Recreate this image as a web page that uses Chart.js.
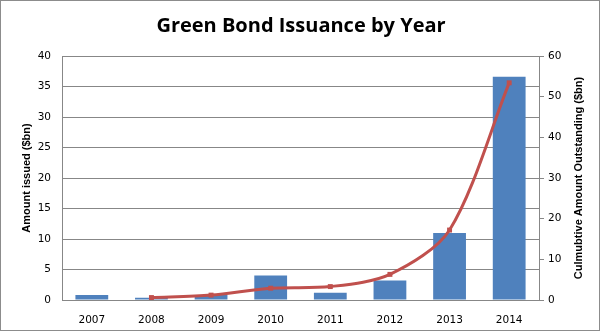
<!DOCTYPE html>
<html>
<head>
<meta charset="utf-8">
<script src="https://cdn.jsdelivr.net/npm/chart.js@4"></script>
<style>
    html, body { margin: 0; padding: 0; background: #fff; }
    #wrap { width: 602px; height: 334px; }
</style>
</head>
<body>
<div id="wrap"><canvas id="myChart" width="602" height="334"></canvas></div>
<script>
// Data
const years = ['2007', '2008', '2009', '2010', '2011', '2012', '2013', '2014'];
const issued = [0.82, 0.38, 0.8, 4.0, 1.2, 3.2, 11.0, 36.6];
const outstanding = [null, 0.6, 1.2, 2.9, 3.3, 6.3, 17.2, 53.4];
const leftTicks = [0, 5, 10, 15, 20, 25, 30, 35, 40];
const rightTicks = [0, 10, 20, 30, 40, 50, 60];

const gridColor = '#878787';
const tickFont = { family: 'DejaVu Sans', size: 10.5 };
const axisTitleFont = 'bold 11px "Liberation Sans"';

// Outer frame + both axis titles (both read bottom-to-top, like the original)
const framePlugin = {
    id: 'frame',
    afterDraw(chart) {
        const ctx = chart.ctx;
        const area = chart.chartArea;
        const midY = (area.top + area.bottom) / 2;
        ctx.save();
        ctx.strokeStyle = '#8c8c8c';
        ctx.lineWidth = 1;
        ctx.strokeRect(0.5, 0.5, 599, 330);

        ctx.fillStyle = '#000';
        ctx.font = axisTitleFont;
        ctx.textAlign = 'center';
        ctx.textBaseline = 'middle';
        [[27, 'Amount issued ($bn)'], [579, 'Culmubtive Amount Outstanding ($bn)']].forEach(([x, text]) => {
            ctx.save();
            ctx.translate(x, midY);
            ctx.rotate(-Math.PI / 2);
            ctx.fillText(text, 0, 0);
            ctx.restore();
        });
        ctx.restore();
    }
};

const ctx = document.getElementById('myChart').getContext('2d');
new Chart(ctx, {
    data: {
        labels: years,
        datasets: [
            {
                type: 'line',
                label: 'Cumulative',
                data: outstanding,
                yAxisID: 'y2',
                borderColor: '#C0504D',
                backgroundColor: '#C0504D',
                borderWidth: 3,
                tension: 0.3,
                pointStyle: 'rect',
                pointRadius: 3.5,
                pointBorderWidth: 0,
                order: 0
            },
            {
                type: 'bar',
                label: 'Issued',
                data: issued,
                yAxisID: 'y',
                backgroundColor: '#4F81BD',
                categoryPercentage: 1,
                barPercentage: 0.55,
                order: 1
            }
        ]
    },
    options: {
        responsive: false,
        animation: false,
        layout: { padding: 0 },
        plugins: {
            legend: { display: false },
            tooltip: { enabled: false },
            title: {
                display: true,
                text: 'Green Bond Issuance by Year',
                color: '#000',
                font: { family: 'Open Sans', size: 20, weight: 'bold' },
                padding: { top: 14, bottom: 18 }
            }
        },
        scales: {
            x: {
                grid: { display: false },
                border: { display: true, color: gridColor },
                ticks: { color: '#000', font: tickFont, padding: 6 },
                afterFit(s) { s.height = 34; }
            },
            y: {
                position: 'left',
                min: 0, max: 40,
                afterBuildTicks(s) { s.ticks = leftTicks.map(v => ({ value: v })); },
                grid: { color: gridColor, drawTicks: false },
                border: { display: true, color: gridColor },
                ticks: { color: '#000', font: tickFont, padding: 11 },
                afterFit(s) { s.width = 62; }
            },
            y2: {
                position: 'right',
                min: 0, max: 60,
                afterBuildTicks(s) { s.ticks = rightTicks.map(v => ({ value: v })); },
                grid: { color: gridColor, drawOnChartArea: false, tickLength: 5 },
                border: { display: true, color: gridColor },
                ticks: { color: '#000', font: tickFont, padding: 4 },
                afterFit(s) { s.width = 63; }
            }
        }
    },
    plugins: [framePlugin]
});
</script>
</body>
</html>
